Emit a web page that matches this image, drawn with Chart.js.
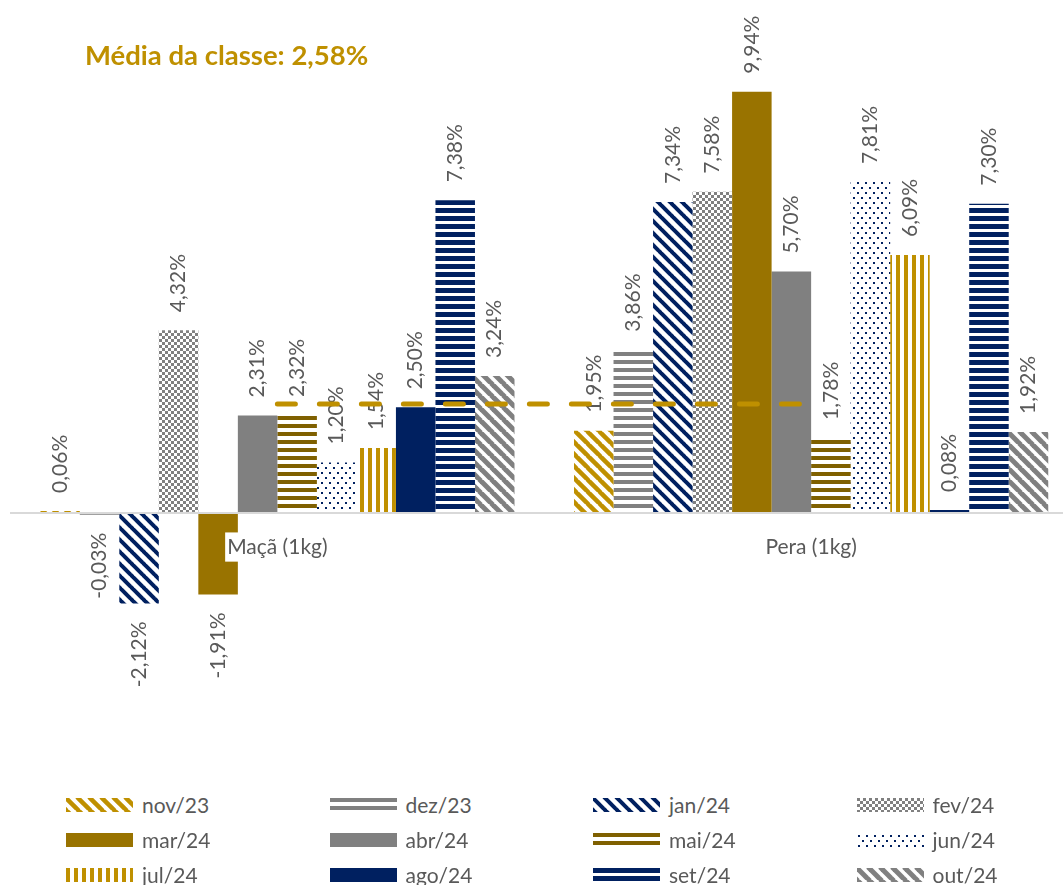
<!DOCTYPE html>
<html lang="pt">
<head>
<meta charset="UTF-8">
<title>Média da classe - Maçã e Pera</title>
<script src="https://cdn.jsdelivr.net/npm/chart.js"></script>
<style>
  body { margin: 0; background: #fff; overflow: hidden; font-family: Lato, sans-serif; }
  #wrap { position: relative; width: 1078px; height: 885px; }
  #chartBox { position: absolute; left: 0; top: 0; width: 1078px; height: 775px; }
  #legend { position: absolute; left: 66px; top: 787px; display: grid;
            grid-template-columns: repeat(4, 263.5px); grid-auto-rows: 35px; }
  .item { display: flex; align-items: center; color: #595959; font-size: 21px; }
  .item canvas { width: 67px; height: 14px; margin-right: 9px; }
</style>
</head>
<body>
<div id="wrap">
  <div id="chartBox"><canvas id="chart"></canvas></div>
  <div id="legend"></div>
</div>
<script>
// data
const categories = ['Maçã (1kg)', 'Pera (1kg)'];
const months = ['nov/23', 'dez/23', 'jan/24', 'fev/24', 'mar/24', 'abr/24',
                'mai/24', 'jun/24', 'jul/24', 'ago/24', 'set/24', 'out/24'];
const maca = [0.06, -0.03, -2.12, 4.32, -1.91, 2.31, 2.32, 1.20, 1.54, 2.50, 7.38, 3.24];
const pera = [1.95, 3.86, 7.34, 7.58, 9.94, 5.70, 1.78, 7.81, 6.09, 0.08, 7.30, 1.92];
const media = 2.58;

const GOLD = '#BF9000', DKGOLD = '#997300', BROWN = '#7F6000', NAVY = '#002060', GRAY = '#808080';

// pattern tiles
function tile(w, h, draw) {
  const c = document.createElement('canvas');
  c.width = w; c.height = h;
  const g = c.getContext('2d');
  g.fillStyle = '#fff';
  g.fillRect(0, 0, w, h);
  draw(g, w, h);
  return c;
}
function diag(color, p, lw) {
  return tile(p, p, g => {
    g.strokeStyle = color; g.lineWidth = lw;
    for (const k of [-p, 0, p]) {
      g.beginPath(); g.moveTo(k - 1, -1); g.lineTo(k + p + 1, p + 1); g.stroke();
    }
  });
}
function hstripe(color, p, t) {
  return tile(8, p, g => { g.fillStyle = color; g.fillRect(0, 0, 8, t); });
}
function vstripe(color, p, t) {
  return tile(p, 8, g => { g.fillStyle = color; g.fillRect(0, 0, t, 8); });
}
function checker(color, s) {
  return tile(s * 2, s * 2, g => { g.fillStyle = color; g.fillRect(0, 0, s, s); g.fillRect(s, s, s, s); });
}
function dots(color) {
  return tile(8, 10, g => { g.fillStyle = color; g.fillRect(1, 2, 2, 2); g.fillRect(5, 7, 2, 2); });
}

const scratch = document.createElement('canvas').getContext('2d');
const pat = t => scratch.createPattern(t, 'repeat');

const fills = [
  pat(diag(GOLD, 12, 4.5)),
  pat(hstripe(GRAY, 8, 4)),
  pat(diag(NAVY, 12, 4)),
  pat(checker(GRAY, 3)),
  DKGOLD,
  GRAY,
  pat(hstripe(BROWN, 8, 4)),
  pat(dots(NAVY)),
  pat(vstripe(GOLD, 8, 4)),
  NAVY,
  pat(hstripe(NAVY, 8, 5)),
  pat(diag(GRAY, 12, 5))
];

const fmt = v => v.toFixed(2).replace('.', ',') + '%';

// rotated value labels, drawn just before the average line so it sits on top
const valueLabels = {
  id: 'valueLabels',
  beforeDatasetDraw(chart, args) {
    if (args.meta.type !== 'line') return;
    const ctx = chart.ctx;
    ctx.save();
    ctx.font = '21px Lato';
    ctx.fillStyle = '#595959';
    ctx.textBaseline = 'middle';
    chart.data.datasets.forEach((ds, i) => {
      if (ds.type === 'line') return;
      chart.getDatasetMeta(i).data.forEach((bar, j) => {
        const v = ds.data[j];
        ctx.save();
        ctx.translate(bar.x, v >= 0 ? bar.y - 18 : bar.y + 18);
        ctx.rotate(-Math.PI / 2);
        ctx.textAlign = v >= 0 ? 'left' : 'right';
        ctx.fillText(fmt(v), 0, 0);
        ctx.restore();
      });
    });
    ctx.restore();
  }
};

const titleText = {
  id: 'titleText',
  afterDraw(chart) {
    const ctx = chart.ctx;
    ctx.save();
    ctx.font = 'bold 27.5px Lato';
    ctx.fillStyle = GOLD;
    ctx.textBaseline = 'alphabetic';
    ctx.fillText('Média da classe: ' + fmt(media), 85, 65);
    ctx.restore();
  }
};

const datasets = [{
  type: 'line',
  label: 'Média da classe',
  data: categories.map(() => media),
  borderColor: GOLD,
  borderWidth: 5,
  borderDash: [18, 24],
  borderCapStyle: 'round',
  pointRadius: 0,
  order: 0
}];
months.forEach((m, i) => {
  datasets.push({
    label: m,
    data: [maca[i], pera[i]],
    backgroundColor: fills[i],
    borderWidth: 0,
    order: 1
  });
});

const chart = new Chart(document.getElementById('chart'), {
  type: 'bar',
  data: { labels: categories, datasets: datasets },
  options: {
    responsive: true,
    maintainAspectRatio: false,
    animation: false,
    layout: { padding: { left: 10.5, right: 0, top: 4.3, bottom: 7 } },
    datasets: { bar: { categoryPercentage: 0.8885, barPercentage: 1 } },
    plugins: { legend: { display: false }, tooltip: { enabled: false } },
    scales: {
      x: {
        position: { y: 0 },
        grid: { display: false, drawTicks: false },
        border: { color: '#D9D9D9', width: 2, z: 1 },
        ticks: {
          z: 2,
          color: '#595959',
          font: { family: 'Lato', size: 21 },
          padding: 21,
          showLabelBackdrop: true,
          backdropColor: '#fff',
          backdropPadding: 2
        }
      },
      y: { display: false, min: -6, max: 12 }
    }
  },
  plugins: [valueLabels, titleText]
});

// HTML legend, 4 columns like the original
const legendEl = document.getElementById('legend');
chart.data.datasets.forEach(ds => {
  if (ds.type === 'line') return;
  const item = document.createElement('div');
  item.className = 'item';
  const sw = document.createElement('canvas');
  sw.width = 67; sw.height = 14;
  const g = sw.getContext('2d');
  g.fillStyle = ds.backgroundColor;
  g.fillRect(0, 0, 67, 14);
  const span = document.createElement('span');
  span.textContent = ds.label;
  item.appendChild(sw);
  item.appendChild(span);
  legendEl.appendChild(item);
});
</script>
</body>
</html>
